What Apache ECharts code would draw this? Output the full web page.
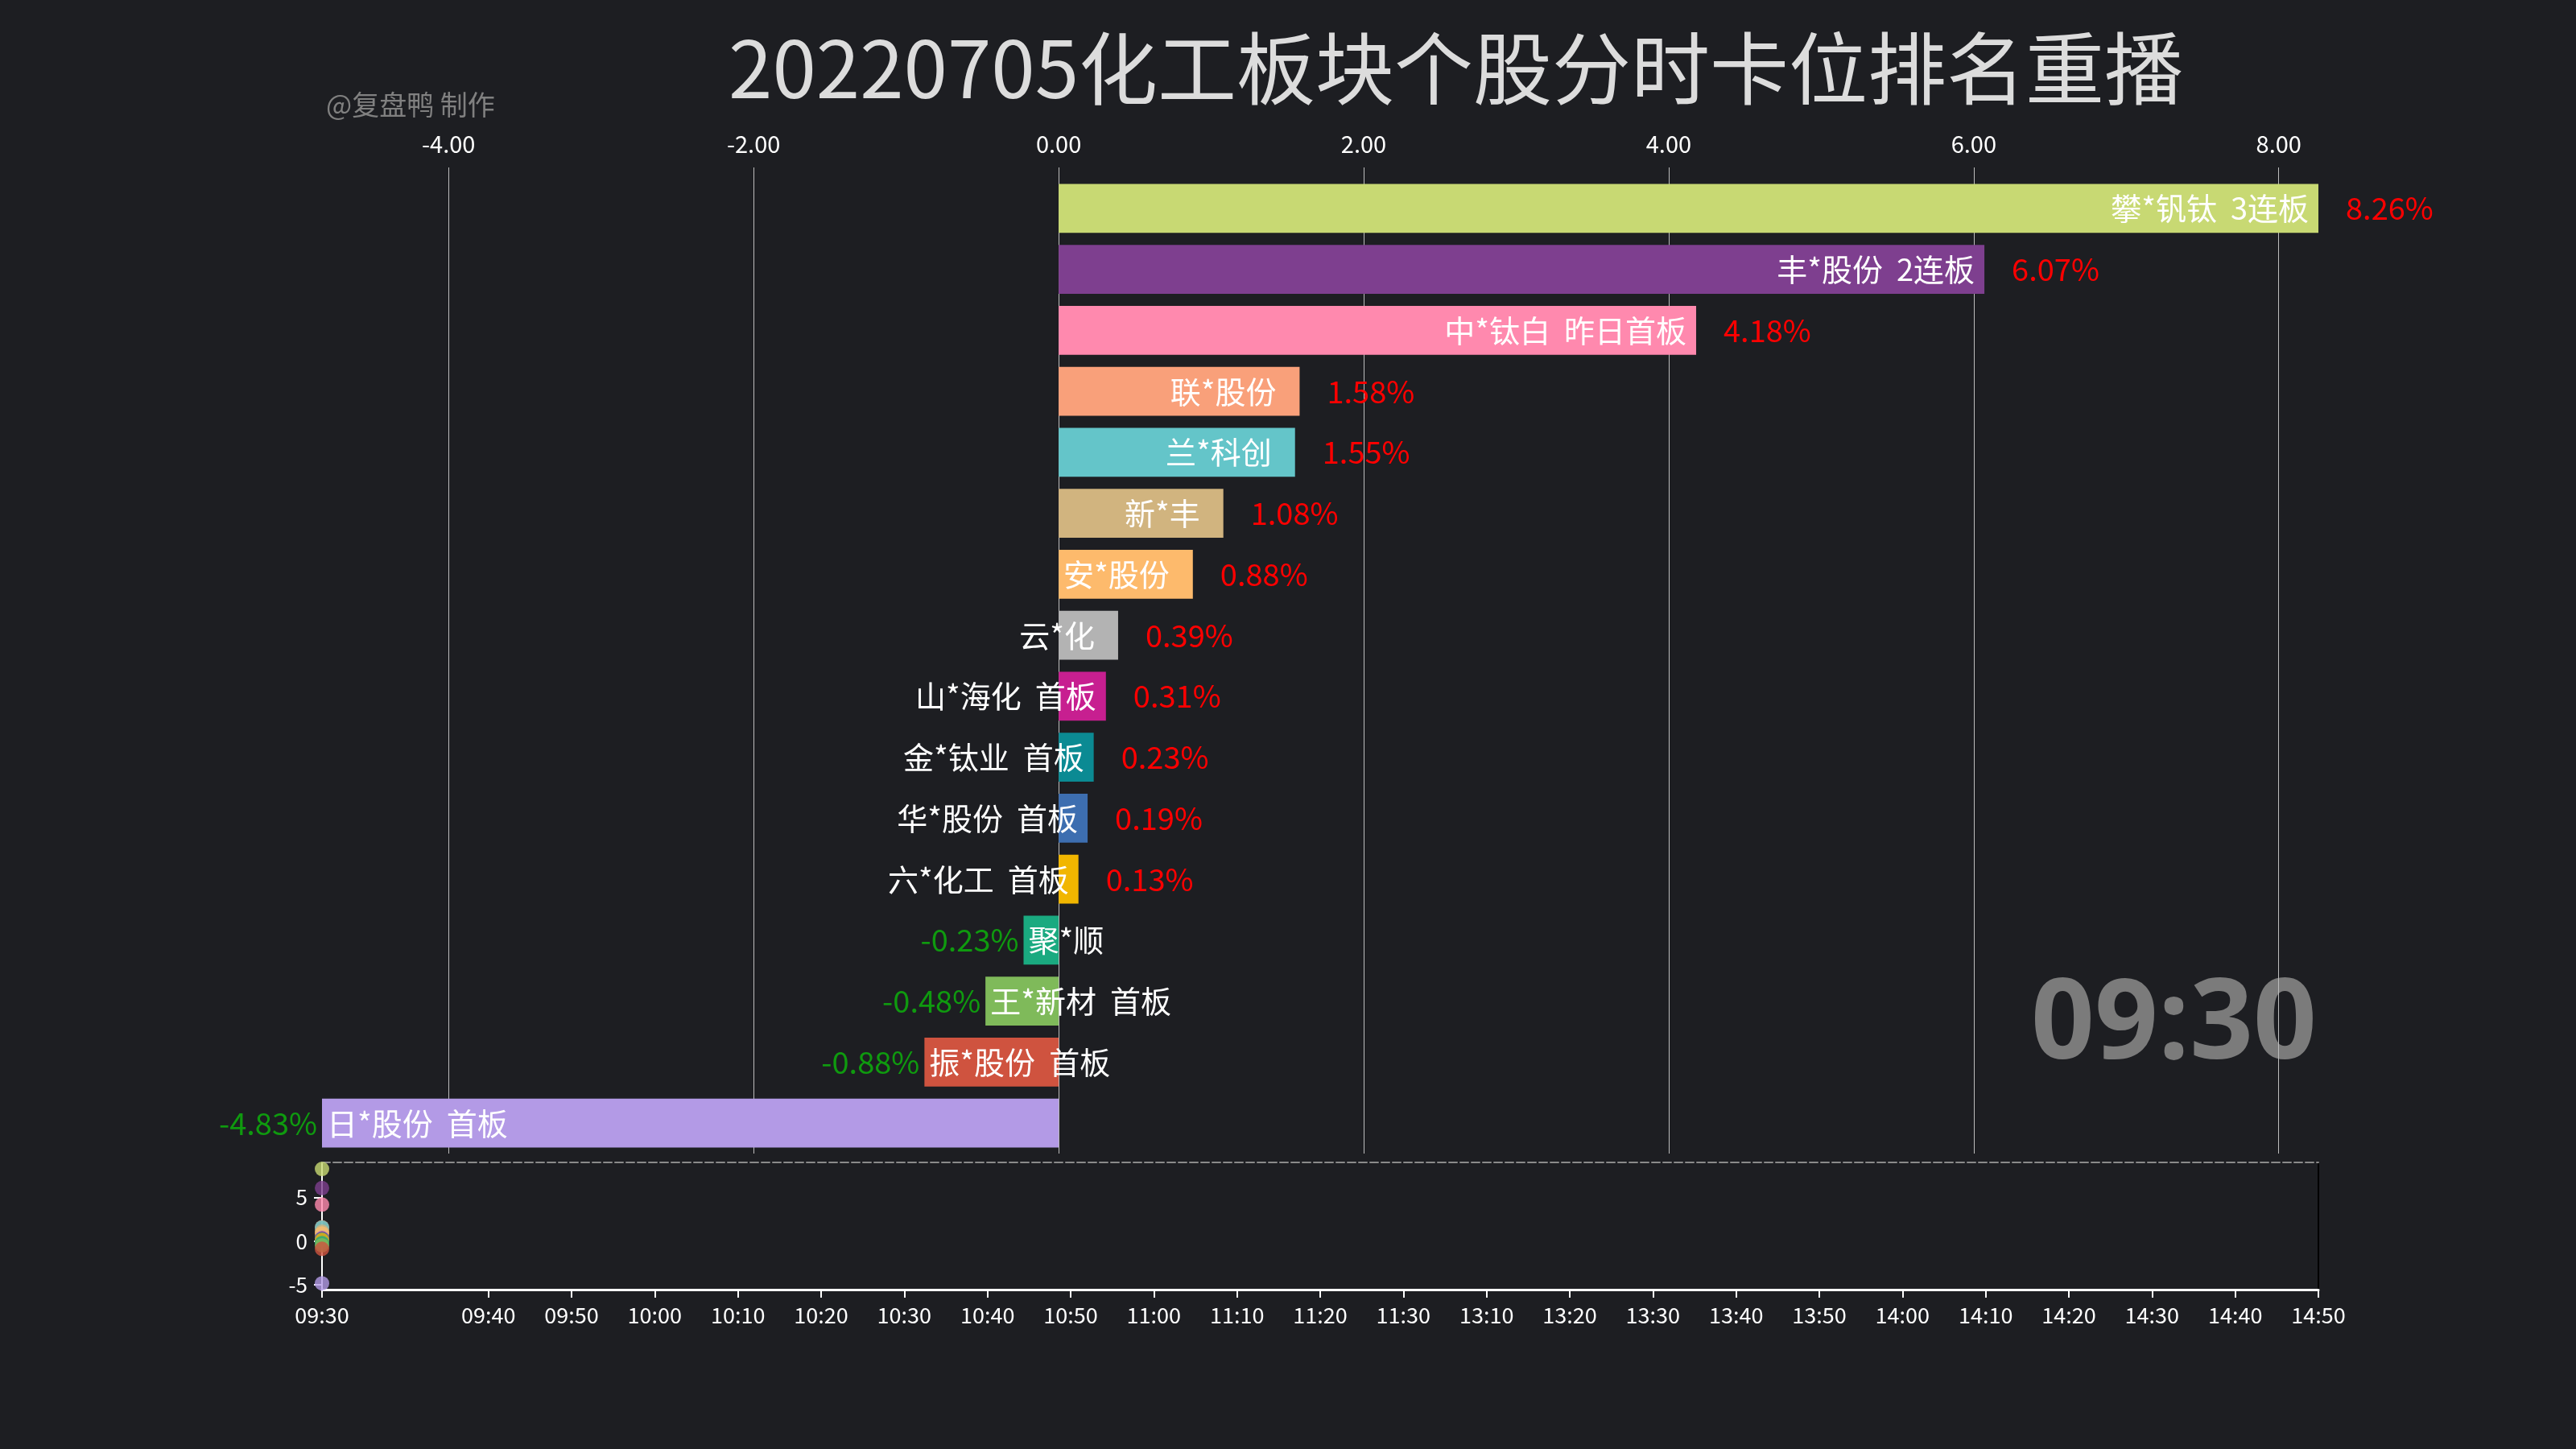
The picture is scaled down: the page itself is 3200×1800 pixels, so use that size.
<!DOCTYPE html>
<html>
<head>
<meta charset="utf-8">
<script src="https://cdn.jsdelivr.net/npm/echarts@6/dist/echarts.min.js"></script>
<style>
html,body{margin:0;padding:0;background:#1d1e22;}
#main{width:3200px;height:1800px;}
</style>
</head>
<body>
<div id="main"></div>
<script>
// ---- data ----
var titleText = '20220705化工板块个股分时卡位排名重播';
var authorText = '@复盘鸭 制作';
var currentTime = '09:30';
var names = ['攀*钒钛','丰*股份','中*钛白','联*股份','兰*科创','新*丰','安*股份','云*化','山*海化','金*钛业','华*股份','六*化工','聚*顺','王*新材','振*股份','日*股份'];
var tags = ['3连板','2连板','昨日首板','','','','','','首板','首板','首板','首板','','首板','首板','首板'];
var changes = [8.26,6.07,4.18,1.58,1.55,1.08,0.88,0.39,0.31,0.23,0.19,0.13,-0.23,-0.48,-0.88,-4.83];
var colors = ['#c8d973','#7e3f8f','#ff89ae','#f9a07a','#64c5c9','#d1b47f','#fdba6c','#b3b3b3','#c71f90','#0b8a93','#3d6eb0','#f1b600','#1aaa80','#7fba5a','#cf533f','#b39ae6'];
var xTicks = [-4,-2,0,2,4,6,8];
var timeLabels = ['09:30','','09:40','09:50','10:00','10:10','10:20','10:30','10:40','10:50','11:00','11:10','11:20','11:30','13:10','13:20','13:30','13:40','13:50','14:00','14:10','14:20','14:30','14:40','14:50'];
var smallYTicks = [-5,0,5];
var smallYRange = [-5.55, 9];

// ---- build ----
var FONT = '"Noto Sans CJK SC", "Noto Sans", sans-serif';
var nameData = changes.map(function (v, i) {
  return {
    value: v,
    itemStyle: { color: colors[i] },
    label: { position: v >= 0 ? 'insideRight' : 'insideLeft', distance: v >= 0 ? 12 : 6 }
  };
});
var valueData = changes.map(function (v, i) {
  return {
    value: v,
    label: {
      position: v >= 0 ? 'right' : 'left',
      distance: v >= 0 ? 34 : 6,
      color: v >= 0 ? '#ff0000' : '#0f9a0f'
    }
  };
});
var dotData = changes.map(function (v, i) {
  return { value: [timeLabels[0], v], itemStyle: { color: colors[i] } };
});

var chart = echarts.init(document.getElementById('main'), null, { renderer: 'canvas' });
chart.setOption({
  backgroundColor: '#1d1e22',
  animation: false,
  textStyle: { fontFamily: FONT },
  title: [
    { text: titleText, left: 900, top: 31,
      textStyle: { fontSize: 98, color: '#dcdcdc', fontWeight: 'normal', fontFamily: FONT } },
    { text: authorText, left: 400, top: 108,
      textStyle: { fontSize: 34, color: '#808080', fontWeight: 'normal', fontFamily: FONT } }
  ],
  graphic: [
    { type: 'text', right: 322, top: 1207, z: 0,
      style: { text: currentTime, font: 'bold 138px "Open Sans", "Noto Sans", sans-serif', fill: '#7b7b7b' } }
  ],
  grid: [
    { left: 400, right: 320, top: 221, bottom: 367 },
    { left: 400, right: 320, top: 1444, bottom: 198 }
  ],
  xAxis: [
    {
      type: 'value', gridIndex: 0, position: 'top',
      min: 'dataMin', max: 'dataMax',
      axisLine: { show: false },
      axisTick: { show: true, length: 13, customValues: xTicks, lineStyle: { color: '#bdbdbd', width: 1 } },
      axisLabel: { customValues: xTicks, color: '#ffffff', fontSize: 29, margin: 28, fontFamily: FONT,
        formatter: function (v) { return v.toFixed(2); } },
      splitLine: { show: true, lineStyle: { color: '#bdbdbd', width: 1 } }
    },
    {
      type: 'category', gridIndex: 1, position: 'bottom', data: timeLabels, boundaryGap: false,
      axisLine: { show: true, onZero: false, lineStyle: { color: '#ffffff', width: 3 } },
      axisTick: { show: true, length: 10, lineStyle: { color: '#ffffff', width: 2 },
        interval: function (idx, val) { return val !== ''; } },
      axisLabel: { color: '#ffffff', fontSize: 27, margin: 18, interval: 0, fontFamily: FONT },
      splitLine: { show: false }
    },
    {
      type: 'category', gridIndex: 1, position: 'top', data: timeLabels, boundaryGap: false,
      axisLine: { show: true, onZero: false, lineStyle: { color: '#8a8a8a', width: 2, type: [10, 4] } },
      axisTick: { show: false }, axisLabel: { show: false }, splitLine: { show: false }
    }
  ],
  yAxis: [
    {
      type: 'category', gridIndex: 0, data: names, inverse: true,
      axisLine: { show: false }, axisTick: { show: false }, axisLabel: { show: false }, splitLine: { show: false }
    },
    {
      type: 'value', gridIndex: 1, position: 'left', min: smallYRange[0], max: smallYRange[1],
      axisLine: { show: true, onZero: false, lineStyle: { color: '#ffffff', width: 2 } },
      axisTick: { show: true, length: 10, customValues: smallYTicks, lineStyle: { color: '#ffffff', width: 2 } },
      axisLabel: { customValues: smallYTicks, color: '#ffffff', fontSize: 26, margin: 18, fontFamily: FONT },
      splitLine: { show: false }
    },
    {
      type: 'value', gridIndex: 1, position: 'right', min: smallYRange[0], max: smallYRange[1],
      axisLine: { show: true, onZero: false, lineStyle: { color: '#000000', width: 2 } },
      axisTick: { show: false }, axisLabel: { show: false }, splitLine: { show: false }
    }
  ],
  series: [
    {
      type: 'bar', xAxisIndex: 0, yAxisIndex: 0, barWidth: '80%', barGap: '-100%',
      data: nameData, z: 3,
      label: {
        show: true, color: '#ffffff', fontSize: 38, fontFamily: FONT, textBorderWidth: 0,
        formatter: function (p) { return names[p.dataIndex] + '  ' + tags[p.dataIndex]; }
      }
    },
    {
      type: 'bar', xAxisIndex: 0, yAxisIndex: 0, barWidth: '80%', barGap: '-100%',
      data: valueData, z: 2, silent: true,
      itemStyle: { color: 'rgba(0,0,0,0)' },
      label: {
        show: true, fontSize: 38, fontFamily: FONT, textBorderWidth: 0,
        formatter: function (p) { return p.value.toFixed(2) + '%'; }
      }
    },
    {
      type: 'scatter', xAxisIndex: 1, yAxisIndex: 1, symbol: 'circle', symbolSize: 18,
      data: dotData
    }
  ]
});
</script>
</body>
</html>
